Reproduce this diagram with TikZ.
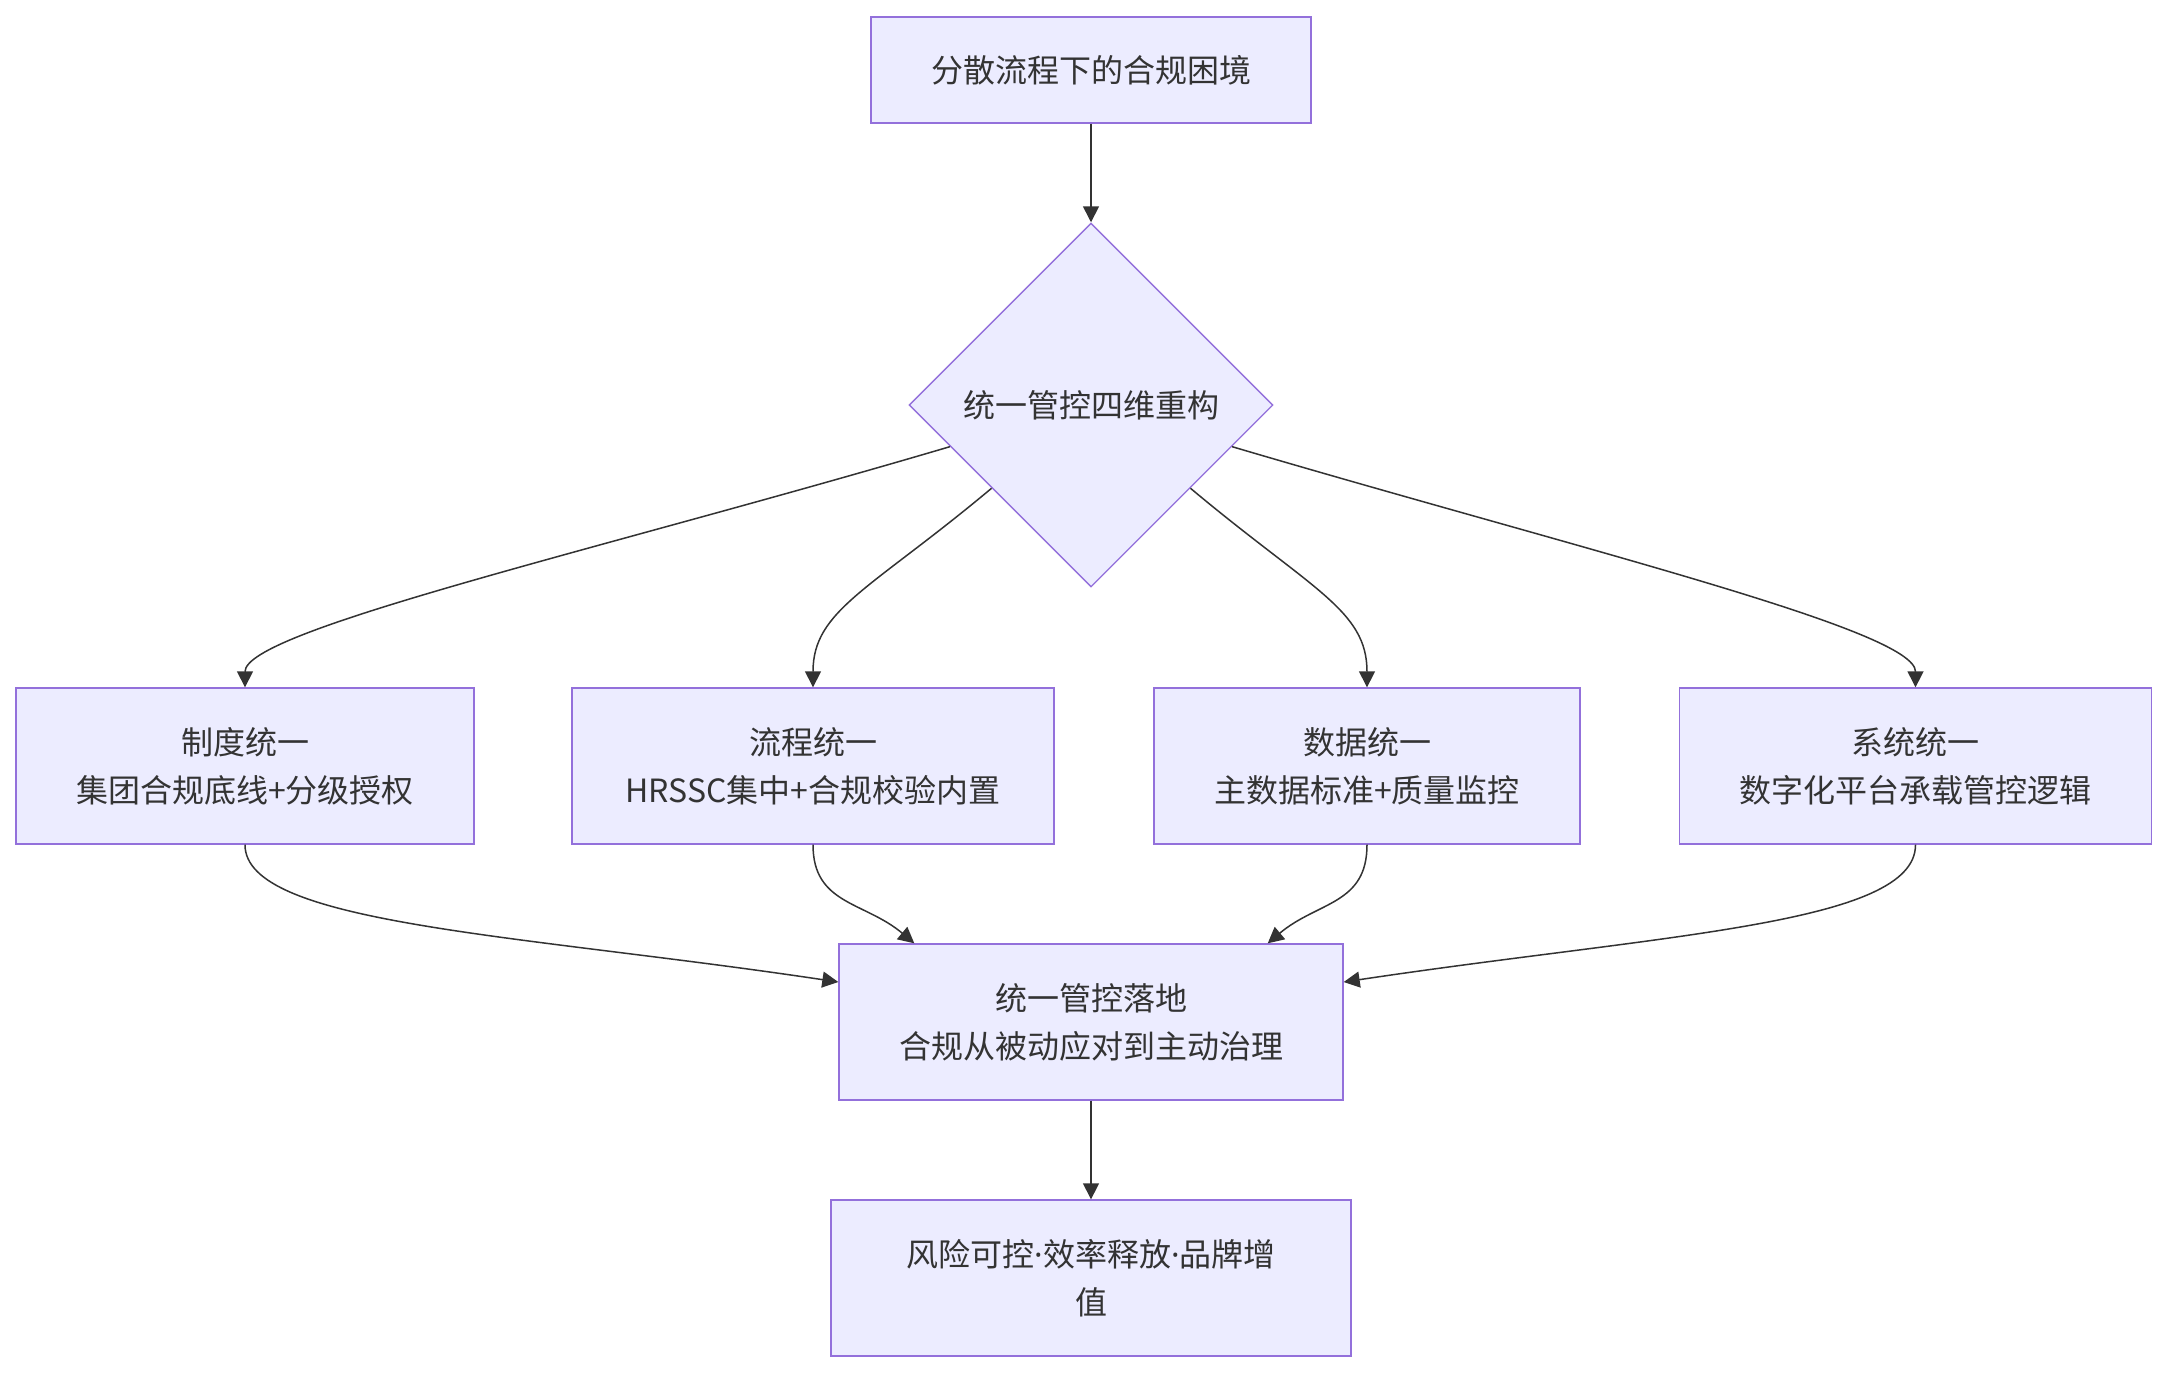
\documentclass[tikz,border=0pt]{standalone}
\usepackage{fontspec}
\setmainfont{Noto Sans CJK SC}
\newfontfamily\latinfont{Noto Sans}
\usetikzlibrary{shapes.geometric,arrows.meta}
\definecolor{boxfill}{HTML}{ECECFF}
\definecolor{boxline}{HTML}{9370DB}
\definecolor{ink}{HTML}{333333}
\newcommand{\middot}{{\latinfont ·}}
\begin{document}
\begin{tikzpicture}[x=0.5pt,y=-0.5pt,
  every node/.style={font=\fontsize{16pt}{24pt}\selectfont, text=ink},
  flowbox/.style={draw=boxline, fill=boxfill, line width=0.7pt, rectangle, align=center, inner sep=0pt, minimum height=78pt},
  choice/.style={draw=boxline, fill=boxfill, line width=0.7pt, diamond, aspect=1, inner sep=0pt, minimum width=182pt, minimum height=182pt, align=center},
  arr/.style={draw=ink, line width=0.75pt, -{Triangle[length=8pt,width=8pt]}}]
\useasboundingbox (0,0) rectangle (2167,1372);
\fill[white] (0,0) rectangle (2167,1372);

\node[flowbox, minimum width=220pt, minimum height=53pt] (top) at (1091,70) {分散流程下的合规困境};
\node[choice] (d) at (1091,405) {统一管控四维重构};

\node[flowbox, minimum width=229pt] (b1) at (245,766) {制度统一\\集团合规底线+分级授权};
\node[flowbox, minimum width=241pt] (b2) at (813,766) {流程统一\\HRSSC集中+合规校验内置};
\node[flowbox, minimum width=213pt] (b3) at (1367,766) {数据统一\\主数据标准+质量监控};
\node[flowbox, minimum width=236pt] (b4) at (1915.5,766) {系统统一\\数字化平台承载管控逻辑};

\node[flowbox, minimum width=252pt] (b5) at (1091,1022) {统一管控落地\\合规从被动应对到主动治理};
\node[flowbox, minimum width=260pt] (b6) at (1091,1278) {风险可控\middot 效率释放\middot 品牌增\\值};

\draw[arr] (top) -- (d);
\draw[arr] (d) .. controls (600,550) and (245,630) .. (b1);
\draw[arr] (d) .. controls (870,590) and (813,610) .. (b2);
\draw[arr] (d) .. controls (1312,590) and (1367,610) .. (b3);
\draw[arr] (d) .. controls (1582,550) and (1915.5,630) .. (b4);

\draw[arr] (b1.south) .. controls +(0,80) and +(-320,-48) .. ([yshift=20pt]b5.west);
\draw[arr] (b2.south) .. controls +(0,60) and +(-50,-42) .. ([xshift=38pt]b5.north west);
\draw[arr] (b3.south) .. controls +(0,60) and +(50,-42) .. ([xshift=-38pt]b5.north east);
\draw[arr] (b4.south) .. controls +(0,80) and +(320,-48) .. ([yshift=20pt]b5.east);

\draw[arr] (b5) -- (b6);
\end{tikzpicture}
\end{document}
